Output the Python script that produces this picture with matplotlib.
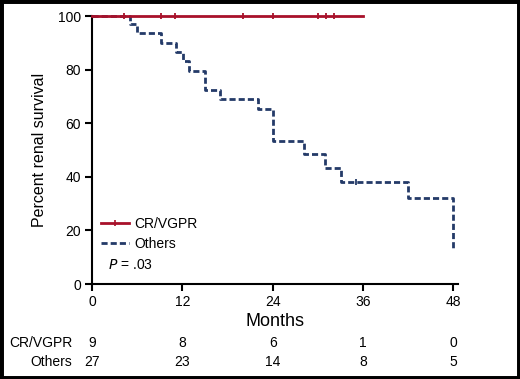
import matplotlib
matplotlib.use("Agg")
import matplotlib.pyplot as plt
from matplotlib import font_manager as fm
from matplotlib.lines import Line2D

names = {f.name for f in fm.fontManager.ttflist}
fam = ["Liberation Sans Narrow", "Liberation Sans", "DejaVu Sans"]
fam = [f for f in fam if f in names] + ["DejaVu Sans"]
plt.rcParams["font.family"] = fam

# Data
cr_times = [0, 36]
cr_surv = [100, 100]
cr_censor = [4.2, 9.2, 11.0, 20.0, 24.1, 30.0, 31.1, 32.1]

oth_times = [0, 5.1, 6.0, 9.1, 11.1, 12.1, 12.9, 15.0, 17.0, 22.0, 24.0, 28.1, 31.0, 33.1, 42.0, 48.0]
oth_surv = [100, 97.0, 93.5, 89.8, 86.7, 83.3, 79.5, 72.4, 69.0, 65.2, 53.5, 48.5, 43.4, 38.2, 32.0, 13.3]
oth_censor_t = [35.0]
oth_censor_s = [38.2]

xticks = [0, 12, 24, 36, 48]
yticks = [0, 20, 40, 60, 80, 100]
risk_cr = [9, 8, 6, 1, 0]
risk_oth = [27, 23, 14, 8, 5]

RED = "#a8112a"
BLUE = "#243a68"
FS = 10

fig = plt.figure(figsize=(5.2, 3.79), dpi=100)
ax = fig.add_axes([92/520, 1-284/379, 366/520, 268/379])

ax.plot(oth_times, oth_surv, drawstyle="steps-post", color=BLUE, lw=2.0,
        ls=(0, (2.2, 1.1)), clip_on=False, zorder=3)
ax.plot(oth_censor_t, oth_censor_s, ls="none", marker="|", ms=5, mew=1.3, color=BLUE, clip_on=False)
ax.plot(cr_times, cr_surv, color=RED, lw=2.0, clip_on=False, zorder=4)
ax.plot(cr_censor, [100]*len(cr_censor), ls="none", marker="|", ms=5, mew=1.3, color=RED, clip_on=False, zorder=4)

ax.set_xlim(0, 48.6)
ax.set_ylim(0, 100)
ax.set_xticks(xticks)
ax.set_yticks(yticks)
for s in ["top", "right"]:
    ax.spines[s].set_visible(False)
for s in ["left", "bottom"]:
    ax.spines[s].set_linewidth(1.5)
ax.spines["left"].set_bounds(0, 100)
ax.tick_params(width=1.5, length=5, labelsize=FS, pad=3)
ax.set_ylabel("Percent renal survival", fontsize=11.5, labelpad=8)
ax.set_xlabel("Months", fontsize=13, labelpad=2.5)

h1 = Line2D([0], [0], color=RED, lw=2.0, marker="|", ms=4, mew=1.2)
h2 = Line2D([0], [0], color=BLUE, lw=2.0, ls=(0, (2.2, 1.1)))
leg = ax.legend([h1, h2], ["CR/VGPR", "Others"], loc="upper left",
                bbox_to_anchor=(0.01, 0.272), frameon=False, fontsize=FS,
                handlelength=2.0, handletextpad=0.4, labelspacing=0.45, borderaxespad=0)
ax.text(0.045, 0.07, r"$P$ = .03", transform=ax.transAxes, fontsize=FS, va="center")

# number at risk
rows = [("CR/VGPR", risk_cr, 343), ("Others", risk_oth, 362)]
for label, vals, ypix in rows:
    yf = 1 - ypix/379
    fig.text(72/520, yf, label, ha="right", va="center", fontsize=FS)
    for t, v in zip(xticks, vals):
        xd = ax.transData.transform((t, 0))[0]
        xf = fig.transFigure.inverted().transform((xd, 0))[0]
        fig.text(xf, yf, str(v), ha="center", va="center", fontsize=FS)

# border
fig.patches.append(plt.Rectangle((0, 0), 1, 1, transform=fig.transFigure, fill=False,
                                 lw=5, edgecolor="black"))
fig.savefig("out.png", dpi=100)
